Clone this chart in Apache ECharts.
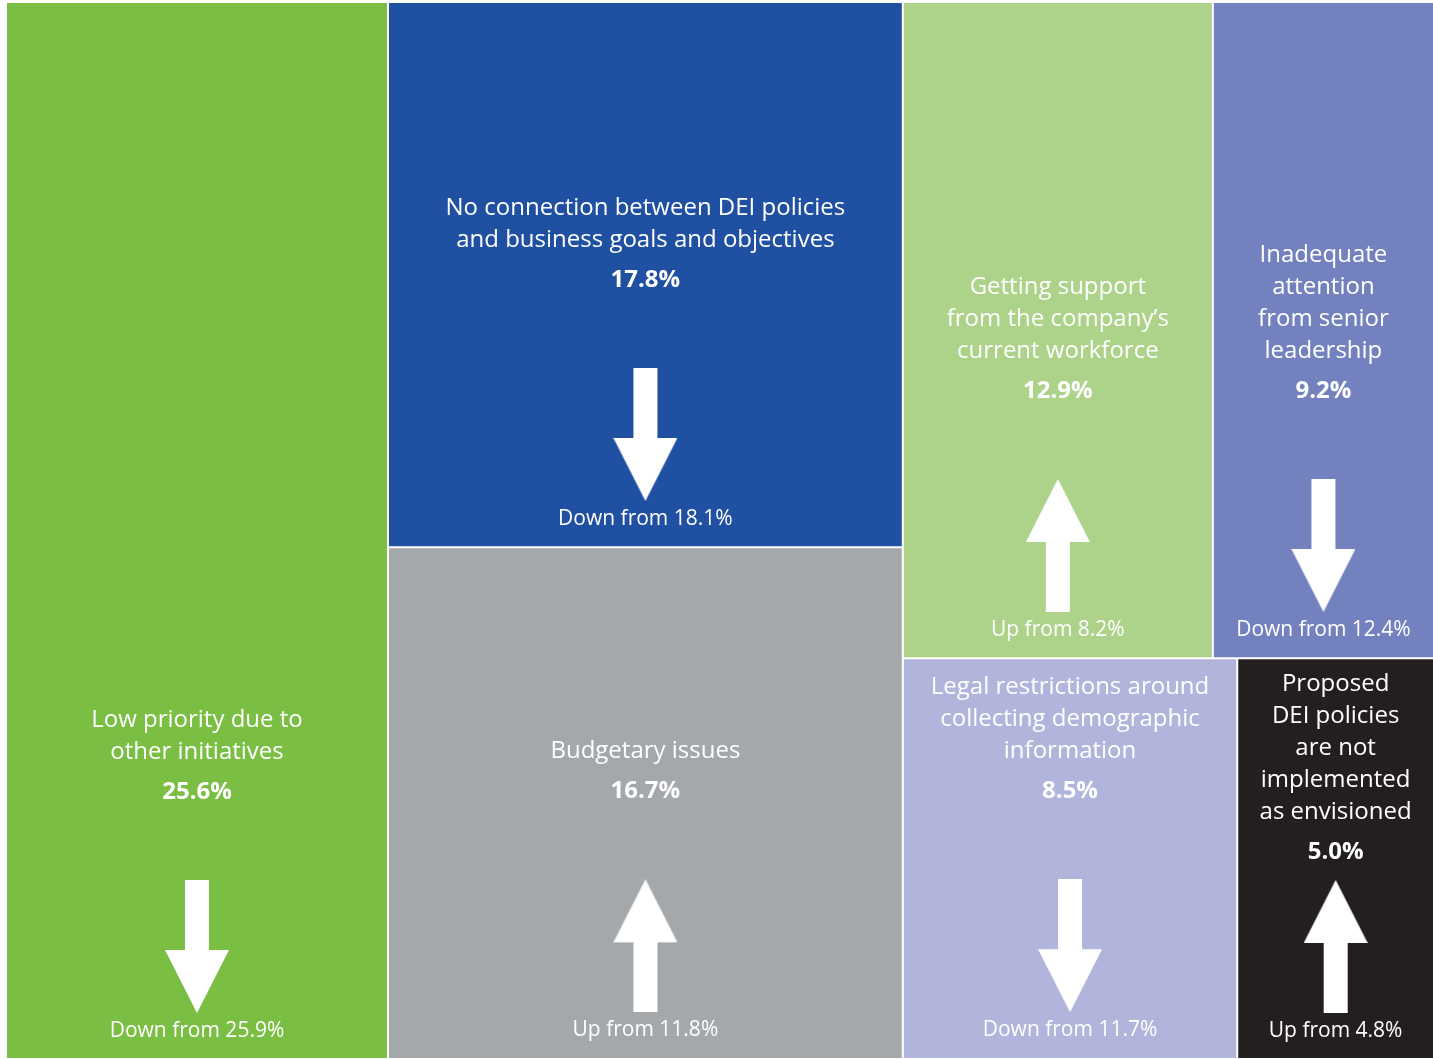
<!DOCTYPE html>
<html>
<head>
<meta charset="utf-8">
<script src="https://cdn.jsdelivr.net/npm/echarts@6/dist/echarts.min.js"></script>
<style>
html, body { margin: 0; padding: 0; background: #ffffff; }
#chart { width: 1433px; height: 1059px; }
</style>
</head>
<body>
<div id="chart"></div>
<script>
// ---- data ----
const categories = [
  'Low priority due to\nother initiatives',
  'No connection between DEI policies\nand business goals and objectives',
  'Budgetary issues',
  'Getting support\nfrom the company\u2019s\ncurrent workforce',
  'Inadequate\nattention\nfrom senior\nleadership',
  'Legal restrictions around\ncollecting demographic\ninformation',
  'Proposed\nDEI policies\nare not\nimplemented\nas envisioned'
];
const values = [25.6, 17.8, 16.7, 12.9, 9.2, 8.5, 5.0];
const previousValues = [25.9, 18.1, 11.8, 8.2, 12.4, 11.7, 4.8];
// grouping of the cells (indices into the arrays above)
const structure = [[0, [1, 2]], [[3, 4], [5, 6]]];

// ---- styles ----
const cellColors = ['#7BBE44', '#2050A1', '#A5A8AB', '#ADD38B', '#7481BF', '#B2B5DB', '#231F20'];
const FONT = '"Open Sans", "Noto Sans", sans-serif';
const TITLE_LH = 32, PCT_LH = 48, ARROW_W = 64, ARROW_H = 133, FROM_LH = 36;

function makeArrow(up) {
  const c = document.createElement('canvas');
  c.width = ARROW_W; c.height = ARROW_H;
  const g = c.getContext('2d');
  g.fillStyle = '#ffffff';
  const shaftW = 24, headH = 63;
  const sx = (ARROW_W - shaftW) / 2;
  g.beginPath();
  if (up) {
    g.moveTo(ARROW_W / 2, 0);
    g.lineTo(ARROW_W, headH);
    g.lineTo(sx + shaftW, headH);
    g.lineTo(sx + shaftW, ARROW_H);
    g.lineTo(sx, ARROW_H);
    g.lineTo(sx, headH);
    g.lineTo(0, headH);
  } else {
    g.moveTo(sx, 0);
    g.lineTo(sx + shaftW, 0);
    g.lineTo(sx + shaftW, ARROW_H - headH);
    g.lineTo(ARROW_W, ARROW_H - headH);
    g.lineTo(ARROW_W / 2, ARROW_H);
    g.lineTo(0, ARROW_H - headH);
    g.lineTo(sx, ARROW_H - headH);
  }
  g.closePath();
  g.fill();
  return c;
}
const upArrow = makeArrow(true);
const downArrow = makeArrow(false);

function leafLabel(i, cellH) {
  const lines = categories[i].split('\n');
  const base = lines.length * TITLE_LH + PCT_LH + ARROW_H + FROM_LH;
  let sp = 64, bottom = 8;
  let top = cellH - base - sp - bottom;
  if (top < 10) { sp = Math.max(0, sp - (10 - top)); top = cellH - base - sp - bottom; }
  if (top < 10) { bottom = Math.max(0, bottom - (10 - top)); top = cellH - base - sp - bottom; }
  top = Math.max(0, Math.floor(top) - 1);
  const up = values[i] > previousValues[i];
  const text = '{top|}\n' + lines.map(l => '{t|' + l + '}').join('\n') +
    '\n{p|' + values[i].toFixed(1) + '%}\n{sp|}\n{' + (up ? 'au' : 'ad') + '|}\n{f|' +
    (up ? 'Up from ' : 'Down from ') + previousValues[i].toFixed(1) + '%}';
  return {
    show: true,
    formatter: text,
    rich: {
      top: { height: top, lineHeight: top, width: 1 },
      t: { fontFamily: FONT, fontSize: 24, lineHeight: TITLE_LH, color: '#ffffff' },
      p: { fontFamily: FONT, fontSize: 24, fontWeight: 'bold', lineHeight: PCT_LH, color: '#ffffff' },
      sp: { height: sp, lineHeight: sp, width: 1 },
      ad: { width: ARROW_W, height: ARROW_H, lineHeight: ARROW_H, backgroundColor: { image: downArrow } },
      au: { width: ARROW_W, height: ARROW_H, lineHeight: ARROW_H, backgroundColor: { image: upArrow } },
      f: { fontFamily: FONT, fontSize: 21, lineHeight: FROM_LH, color: '#ffffff' }
    }
  };
}

let gid = 0;
function buildNode(s, heights) {
  if (typeof s === 'number') {
    const node = { name: categories[s], value: values[s], itemStyle: { color: cellColors[s] } };
    node.label = heights ? leafLabel(s, heights[s]) : { show: false };
    return node;
  }
  return { name: 'group' + (gid++), children: s.map(c => buildNode(c, heights)) };
}

function buildOption(heights) {
  gid = 0;
  return {
    backgroundColor: '#ffffff',
    animation: false,
    series: [{
      type: 'treemap',
      left: 7, top: 3, width: 1426, height: 1055,
      roam: false,
      nodeClick: false,
      sort: false,
      breadcrumb: { show: false },
      itemStyle: { gapWidth: 2, borderWidth: 0, borderColor: '#ffffff' },
      label: { show: true, position: 'inside', align: 'center', verticalAlign: 'middle', padding: 0, overflow: 'none', color: '#ffffff', fontFamily: FONT },
      upperLabel: { show: false },
      emphasis: { disabled: true },
      data: structure.map(s => buildNode(s, heights))
    }]
  };
}

const chart = echarts.init(document.getElementById('chart'), null, { renderer: 'canvas' });
chart.setOption(buildOption(null));
// read the cell heights computed by the treemap layout
const data = chart.getModel().getSeriesByIndex(0).getData();
const heights = categories.map(() => 0);
for (let k = 0; k < data.count(); k++) {
  const idx = categories.indexOf(data.getName(k));
  const lay = data.getItemLayout(k);
  if (idx >= 0 && lay) heights[idx] = lay.height;
}
chart.setOption(buildOption(heights), true);
</script>
</body>
</html>
